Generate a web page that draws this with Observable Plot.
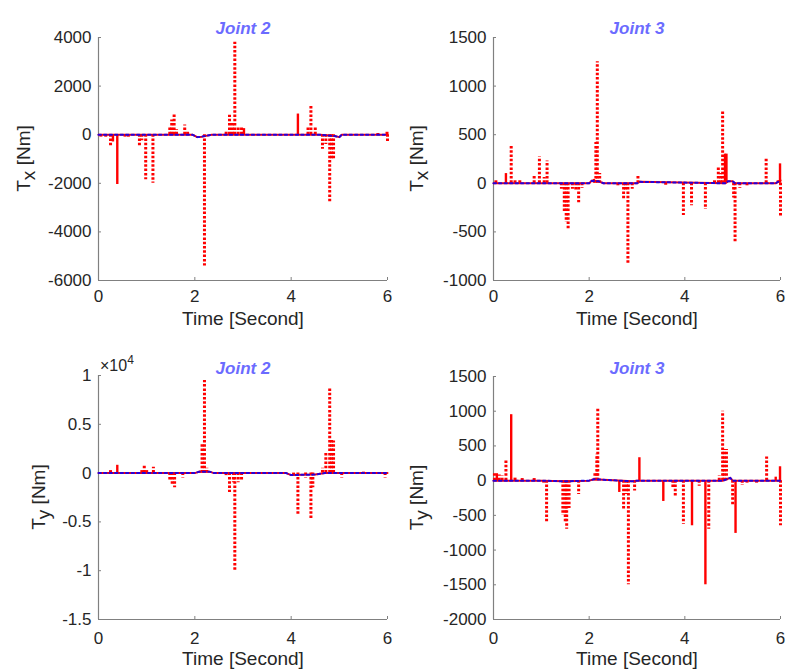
<!DOCTYPE html>
<html><head><meta charset="utf-8">
<script src="https://cdn.jsdelivr.net/npm/d3@7"></script>
<script src="https://cdn.jsdelivr.net/npm/@observablehq/plot@0.6"></script>
<style>
body{margin:0;background:#fff;}
#wrap{position:relative;width:786px;height:670px;overflow:hidden;background:#fff;font-family:"Liberation Sans",Arial,sans-serif;}
#wrap svg{position:absolute;overflow:visible;}
</style></head><body><div id="wrap"></div>
<script>
// ---------- shared ----------
const xTicks = [0, 2, 4, 6];
const timeLabel = "Time [Second]";

// ---------- Joint 2, Tx ----------
const j2xTitle = "Joint 2";
const j2xTicks = [-6000, -4000, -2000, 0, 2000, 4000];
const j2xSpikeT = [0.05,0.15,0.25,0.30,0.39,0.55,0.62,0.85,0.90,0.98,1.13,1.48,1.52,1.57,1.62,1.79,1.85,2.20,2.65,2.72,2.78,2.83,2.90,2.97,3.02,4.14,4.35,4.41,4.50,4.65,4.72,4.80,4.84,4.88,5.80,6.00,5.99];
const j2xSpikeV = [-100,-150,-500,-300,-2050,-100,-120,-450,-250,-1850,-2000,300,600,850,200,400,100,-5400,150,800,500,3800,300,350,250,850,300,1200,350,-600,-400,-2800,-1000,-1000,50,-300,100];
const j2xSpikeS = ["d","d","d","s","s","d","d","d","d","d","d","d","d","d","d","d","d","d","d","d","d","d","d","d","s","s","d","d","d","d","d","d","d","d","d","d","d"];
const j2xBaseT = [0,1.95,2.05,2.15,2.35,4.6,4.9,5.0,5.05,6];
const j2xBaseV = [0,0,-100,-80,0,0,-50,-100,0,0];

// ---------- Joint 3, Tx ----------
const j3xTitle = "Joint 3";
const j3xTicks = [-1000, -500, 0, 500, 1000, 1500];
const j3xSpikeT = [0.05,0.26,0.37,0.45,0.55,0.85,0.96,1.06,1.12,1.42,1.48,1.52,1.56,1.65,1.72,1.78,1.85,2.10,2.14,2.17,2.22,2.60,2.72,2.76,2.81,2.90,3.02,3.60,3.97,4.14,4.43,4.62,4.70,4.75,4.79,4.84,4.87,5.02,5.05,5.15,5.30,5.70,5.95,5.99,6.00];
const j3xSpikeV = [30,100,400,40,30,80,270,60,230,-60,-300,-400,-470,-60,-80,-200,-50,40,420,1250,100,-30,-170,-80,-830,-60,70,-20,-330,-230,-270,30,170,100,750,300,300,-150,-620,-50,-40,250,40,200,-350];
const j3xSpikeS = ["d","s","d","d","d","d","d","d","d","d","d","d","d","d","d","d","d","s","d","d","d","d","d","d","d","d","d","d","d","d","d","d","d","d","d","s","s","d","d","d","d","d","d","s","d"];
const j3xBaseT = [0,2.0,2.05,2.2,2.3,3.0,3.05,4.85,4.9,5.0,5.05,5.9,6];
const j3xBaseV = [0,0,25,20,0,0,15,0,20,20,0,0,30];

// ---------- Joint 2, Ty (x 10^4) ----------
const j2yTitle = "Joint 2";
const j2yTicks = [-15000, -10000, -5000, 0, 5000, 10000];
const j2yExponent = "4";
const j2ySpikeT = [0.25,0.39,0.90,0.95,1.00,1.14,1.48,1.53,1.58,1.75,2.10,2.15,2.20,2.25,2.65,2.72,2.80,2.83,2.90,2.97,3.50,4.05,4.14,4.30,4.41,4.45,4.65,4.72,4.80,4.84,4.88,5.05,5.50,5.95];
const j2ySpikeV = [300,800,300,700,300,600,-800,-1200,-1500,-500,200,3000,9500,500,-300,-2000,-1000,-10000,-1000,-800,-100,-300,-4300,-500,-4800,-1500,500,2000,8800,3500,3300,-500,100,-500];
const j2ySpikeS = ["d","s","d","d","d","d","d","d","d","d","s","d","d","d","d","d","d","d","d","d","d","d","d","d","d","d","d","d","d","d","d","d","d","d"];
const j2yBaseT = [0,2.0,2.1,2.3,2.4,3.9,4.0,4.5,4.7,6];
const j2yBaseV = [0,0,150,150,0,0,-200,-150,0,0];

// ---------- Joint 3, Ty ----------
const j3yTitle = "Joint 3";
const j3yTicks = [-2000, -1500, -1000, -500, 0, 500, 1000, 1500];
const j3ySpikeT = [0.02,0.07,0.12,0.18,0.26,0.37,0.45,0.60,0.85,1.05,1.11,1.45,1.50,1.53,1.58,1.78,2.12,2.16,2.18,2.63,2.72,2.78,2.82,2.95,3.05,3.55,3.75,3.80,3.97,4.15,4.30,4.43,4.50,4.72,4.79,4.82,4.87,5.00,5.06,5.20,5.30,5.50,5.71,5.90,5.99,6.00];
const j3ySpikeV = [100,100,80,70,300,950,40,30,30,-50,-600,-500,-600,-700,-400,-200,120,380,1050,-170,-430,-200,-1500,-150,330,-300,-100,-230,-630,-650,-80,-1500,-700,70,1000,450,450,-370,-760,-70,-60,-40,340,50,200,-650];
const j3ySpikeS = ["d","s","d","d","d","s","d","d","d","d","d","d","d","d","d","d","d","d","d","s","d","d","d","d","s","s","d","d","d","s","d","s","d","d","d","d","d","d","s","d","d","d","d","s","s","d"];
const j3yBaseT = [0,1.0,1.5,2.0,2.1,2.9,3.0,4.8,4.95,5.0,6];
const j3yBaseV = [0,0,-10,0,20,-10,0,0,40,0,0];

// ---------- styling ----------
const RED = "#ff0000", BLUE = "#0000ff", AXIS = "#808080", TEXT = "#262626", TITLE = "#6b6bff";
const FONT = "'Liberation Sans', Arial, Helvetica, sans-serif";

function rows(T, V, S) { return T.map((t, i) => ({t, v: V[i], s: S ? S[i] : null})); }

function makePanel(cfg) {
  const spikes = rows(cfg.spikeT, cfg.spikeV, cfg.spikeS);
  const base = rows(cfg.baseT, cfg.baseV);
  const plot = Plot.plot({
    width: cfg.width, height: cfg.height,
    marginLeft: cfg.ml, marginRight: cfg.mr, marginTop: cfg.mt, marginBottom: cfg.mb,
    x: {domain: [0, 6]},
    y: {domain: [cfg.yTicks[0], cfg.yTicks[cfg.yTicks.length - 1]]},
    style: {fontFamily: FONT, fontSize: "17px", color: TEXT, background: "transparent", overflow: "visible"},
    marks: [
      Plot.ruleX([0], {stroke: AXIS, strokeWidth: 1.2}),
      Plot.ruleY([cfg.yTicks[0]], {stroke: AXIS, strokeWidth: 1.2}),
      Plot.axisX({ticks: xTicks, tickSize: -3, tickPadding: cfg.xPad, tickFormat: d => String(d), label: null, stroke: AXIS, fill: TEXT, fontSize: 17}),
      Plot.axisY({ticks: cfg.yTicks, tickSize: -3, tickPadding: 10, tickFormat: cfg.fmt, label: null, stroke: AXIS, fill: TEXT, fontSize: 17}),
      Plot.line(base, {x: "t", y: "v", stroke: RED, strokeWidth: 2}),
      Plot.ruleX(spikes.filter(d => d.s === "s"), {x: "t", y1: 0, y2: "v", stroke: RED, strokeWidth: 2.4}),
      Plot.ruleX(spikes.filter(d => d.s === "d"), {x: "t", y1: 0, y2: "v", stroke: RED, strokeWidth: 3, strokeDasharray: "2.5,1.8"}),
      Plot.line(base, {x: "t", y: "v", stroke: BLUE, strokeWidth: 2, strokeOpacity: 0.85, strokeDasharray: "2.5,3"}),
      Plot.text([cfg.title], {text: d => d, frameAnchor: "top", dy: cfg.titleDy, fill: TITLE, fontWeight: "bold", fontStyle: "italic", fontSize: 17}),
      Plot.text([timeLabel], {text: d => d, frameAnchor: "bottom", dy: cfg.xLabelDy, fill: TEXT, fontSize: 19})
    ]
  });
  const svg = plot.tagName.toLowerCase() === "svg" ? plot : plot.querySelector("svg");
  plot.style.position = "absolute";
  plot.style.left = cfg.left + "px";
  plot.style.top = cfg.top + "px";
  const s = d3.select(svg);
  const yl = s.append("text")
    .attr("transform", `translate(${cfg.ylX},${(cfg.mt + cfg.height - cfg.mb) / 2}) rotate(-90)`)
    .attr("text-anchor", "middle")
    .attr("fill", TEXT)
    .attr("font-family", FONT)
    .attr("font-size", 19);
  yl.append("tspan").text("T");
  yl.append("tspan").attr("dy", 5).text(cfg.sub);
  yl.append("tspan").attr("dy", -5).text(" [Nm]");
  if (cfg.exponent) {
    const ex = s.append("text")
      .attr("x", cfg.ml + 2).attr("y", cfg.mt - 4)
      .attr("text-anchor", "start")
      .attr("fill", TEXT).attr("font-family", FONT).attr("font-size", 16);
    ex.append("tspan").text("\u00d710");
    ex.append("tspan").attr("dy", -7).attr("font-size", 12).text(cfg.exponent);
  }
  document.getElementById("wrap").appendChild(plot);
}

const plain = d => String(d);
makePanel({left: 0, top: 0, width: 393, height: 335, ml: 98, mr: 6, mt: 37, mb: 55, xPad: 12, xLabelDy: 44, titleDy: -16, ylX: 30,
  yTicks: j2xTicks, fmt: plain, title: j2xTitle, sub: "x",
  spikeT: j2xSpikeT, spikeV: j2xSpikeV, spikeS: j2xSpikeS, baseT: j2xBaseT, baseV: j2xBaseV});
makePanel({left: 393, top: 0, width: 393, height: 335, ml: 100, mr: 6, mt: 37, mb: 55, xPad: 12, xLabelDy: 44, titleDy: -16, ylX: 30,
  yTicks: j3xTicks, fmt: plain, title: j3xTitle, sub: "x",
  spikeT: j3xSpikeT, spikeV: j3xSpikeV, spikeS: j3xSpikeS, baseT: j3xBaseT, baseV: j3xBaseV});
makePanel({left: 0, top: 335, width: 393, height: 335, ml: 98, mr: 6, mt: 40, mb: 51, xPad: 15, xLabelDy: 45, titleDy: -14, ylX: 45,
  yTicks: j2yTicks, fmt: d => String(d / 10000), title: j2yTitle, sub: "y", exponent: j2yExponent,
  spikeT: j2ySpikeT, spikeV: j2ySpikeV, spikeS: j2ySpikeS, baseT: j2yBaseT, baseV: j2yBaseV});
makePanel({left: 393, top: 335, width: 393, height: 335, ml: 100, mr: 6, mt: 41, mb: 51, xPad: 15, xLabelDy: 45, titleDy: -15, ylX: 30,
  yTicks: j3yTicks, fmt: plain, title: j3yTitle, sub: "y",
  spikeT: j3ySpikeT, spikeV: j3ySpikeV, spikeS: j3ySpikeS, baseT: j3yBaseT, baseV: j3yBaseV});
</script>
</body></html>
